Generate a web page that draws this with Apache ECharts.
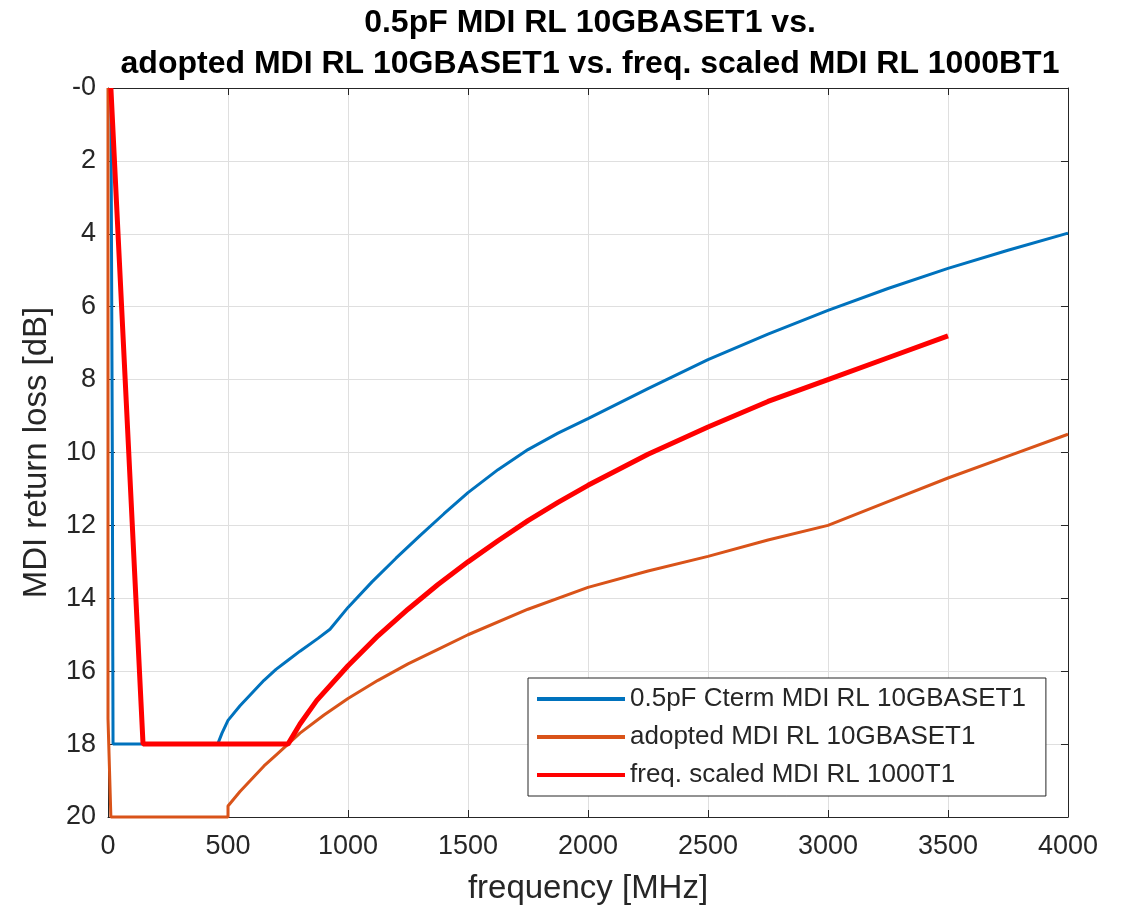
<!DOCTYPE html>
<html>
<head>
<meta charset="utf-8">
<script src="https://cdn.jsdelivr.net/npm/echarts@6/dist/echarts.min.js"></script>
<style>
  html, body { margin: 0; padding: 0; background: #fff; }
  #chart { width: 1127px; height: 910px; }
</style>
</head>
<body>
<div id="chart"></div>
<script>
// Return-loss limit lines, frequency in MHz, return loss in dB
const cterm05Freq = [12, 18, 20, 21, 457, 475, 500, 550, 600, 650, 700, 750, 800, 875, 925, 1000, 1100, 1200, 1300, 1400, 1500, 1625, 1750, 1875, 2000, 2250, 2500, 2750, 3000, 3250, 3500, 3750, 4000];
const cterm05RL   = [0, 10, 15.6, 18, 18, 17.7, 17.35, 16.95, 16.6, 16.25, 15.95, 15.7, 15.45, 15.1, 14.85, 14.25, 13.55, 12.9, 12.28, 11.68, 11.1, 10.47, 9.92, 9.47, 9.07, 8.25, 7.45, 6.75, 6.1, 5.5, 4.95, 4.45, 3.98];

const adoptedFreq = [0, 0, 12, 500, 500, 550, 600, 650, 700, 750, 800, 900, 1000, 1125, 1250, 1375, 1500, 1750, 2000, 2250, 2500, 2750, 3000, 3250, 3500, 3750, 4000];
const adoptedRL   = [0, 17.3, 20, 20, 19.7, 19.3, 18.95, 18.6, 18.3, 18.0, 17.7, 17.2, 16.75, 16.25, 15.8, 15.4, 15.0, 14.3, 13.7, 13.25, 12.85, 12.4, 12.0, 11.35, 10.7, 10.1, 9.5];

const scaledFreq = [12, 146, 750, 800, 870, 1000, 1125, 1250, 1375, 1500, 1625, 1750, 1875, 2000, 2250, 2500, 2750, 3000, 3250, 3500];
const scaledRL   = [0, 18, 18, 17.45, 16.8, 15.85, 15.03, 14.3, 13.62, 13.0, 12.42, 11.87, 11.37, 10.9, 10.05, 9.3, 8.6, 8.0, 7.4, 6.8];

const seriesNames = ['0.5pF Cterm MDI RL 10GBASET1', 'adopted MDI RL 10GBASET1', 'freq. scaled MDI RL 1000T1'];
const titleLines = ['0.5pF MDI RL 10GBASET1 vs.', 'adopted MDI RL 10GBASET1 vs. freq. scaled MDI RL 1000BT1'];

const xMin = 0, xMax = 4000, xStep = 500;
const yMin = 0, yMax = 20, yStep = 2;

const pairs = (f, v) => f.map((x, i) => [x, v[i]]);

const ink = '#262626';
const font = 'Liberation Sans, Arial, Helvetica, sans-serif';

const chart = echarts.init(document.getElementById('chart'), null, { renderer: 'canvas' });

const baseX = {
  type: 'value', min: xMin, max: xMax, interval: xStep,
  axisLine: { show: true, onZero: false, lineStyle: { color: ink, width: 1 } },
  axisTick: { show: true, inside: true, length: 7, lineStyle: { color: ink } },
  splitLine: { show: false }
};
const baseY = {
  type: 'value', min: yMin, max: yMax, interval: yStep, inverse: true,
  axisLine: { show: true, onZero: false, lineStyle: { color: ink, width: 1 } },
  axisTick: { show: true, inside: true, length: 7, lineStyle: { color: ink } },
  splitLine: { show: false }
};

chart.setOption({
  animation: false,
  backgroundColor: '#ffffff',
  title: {
    text: titleLines.join('\n'),
    left: 590, top: 3, textAlign: 'center', padding: 0,
    textStyle: { fontFamily: font, fontWeight: 'bold', fontSize: 32, lineHeight: 41, color: '#000' }
  },
  grid: { left: 108, right: 59, top: 88, bottom: 91, containLabel: false },
  xAxis: [
    Object.assign({}, baseX, {
      position: 'bottom',
      name: 'frequency [MHz]', nameLocation: 'middle', nameGap: 55,
      nameTextStyle: { fontFamily: font, fontSize: 33, color: ink },
      axisLabel: { show: true, margin: 16, fontFamily: font, fontSize: 27, color: ink, formatter: v => String(v) },
      splitLine: { show: true, lineStyle: { color: '#dfdfdf', width: 1 } }
    }),
    Object.assign({}, baseX, { position: 'top', axisLabel: { show: false } })
  ],
  yAxis: [
    Object.assign({}, baseY, {
      position: 'left',
      name: 'MDI return loss [dB]', nameLocation: 'middle', nameGap: 55, nameRotate: 90,
      nameTextStyle: { fontFamily: font, fontSize: 33, color: ink },
      axisLabel: {
        show: true, margin: 12, fontFamily: font, fontSize: 27, color: ink,
        formatter: v => (v === 0 ? '-0' : String(v))
      },
      splitLine: { show: true, lineStyle: { color: '#dfdfdf', width: 1 } }
    }),
    Object.assign({}, baseY, { position: 'right', axisLabel: { show: false } })
  ],
  legend: {
    orient: 'vertical', left: 528, top: 678,
    padding: [7, 20, 7, 9], itemGap: 10,
    itemWidth: 88, itemHeight: 4, icon: 'rect',
    backgroundColor: '#ffffff', borderColor: ink, borderWidth: 1, borderRadius: 0,
    textStyle: { fontFamily: font, fontSize: 26, lineHeight: 28, color: ink },
    data: seriesNames
  },
  series: [
    {
      name: seriesNames[0], type: 'line', data: pairs(cterm05Freq, cterm05RL),
      showSymbol: false, symbol: 'none', clip: false,
      lineStyle: { color: '#0072BD', width: 3 }, itemStyle: { color: '#0072BD' }
    },
    {
      name: seriesNames[1], type: 'line', data: pairs(adoptedFreq, adoptedRL),
      showSymbol: false, symbol: 'none', clip: false,
      lineStyle: { color: '#D95319', width: 3 }, itemStyle: { color: '#D95319' }
    },
    {
      name: seriesNames[2], type: 'line', data: pairs(scaledFreq, scaledRL),
      showSymbol: false, symbol: 'none', clip: false,
      lineStyle: { color: '#FF0000', width: 5 }, itemStyle: { color: '#FF0000' }
    }
  ]
});
</script>
</body>
</html>
